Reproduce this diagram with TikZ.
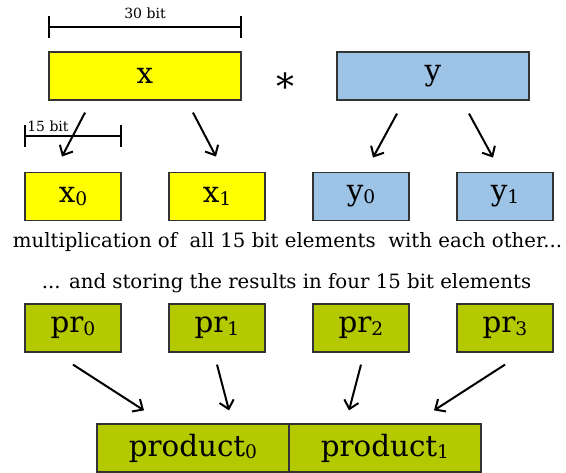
\documentclass[tikz,border=0pt]{standalone}
\usepackage{fontspec}
\setmainfont{DejaVu Serif}
\usetikzlibrary{positioning,arrows.meta,calc}

\definecolor{bitYellow}{RGB}{255,255,0}
\definecolor{bitBlue}{RGB}{157,195,230}
\definecolor{bitGreen}{RGB}{181,201,0}
\newcommand{\low}[1]{\raisebox{-2pt}{\fontsize{14}{14}\selectfont #1}}

\begin{document}
\begin{tikzpicture}[x=0.75pt, y=-0.75pt,
  word/.style={draw=black!80, line width=0.9pt, inner sep=0pt,
               font=\fontsize{22}{24}\selectfont},
  wide/.style={word, minimum width=144pt, minimum height=36pt},
  half/.style={word, minimum width=72pt, minimum height=36.5pt},
  arr/.style={-{Straight Barb[length=6pt,width=11pt]}, line width=1.5pt},
  bitbar/.style={{Bar[width=16.5pt]}-{Bar[width=16.5pt]}, line width=1.5pt},
  note/.style={font=\fontsize{14.8}{16}\selectfont, inner sep=0pt},
  tag/.style={font=\fontsize{10.5}{12}\selectfont, inner sep=0pt},
]
\useasboundingbox (0,0) rectangle (566,473);

% the two 30 bit operands
\node[wide, fill=bitYellow] (x) at (145,76)  {x};
\node[wide, fill=bitBlue]   (y) at (433,76)  {y};
\node[inner sep=0pt, font=\fontsize{27}{27}\selectfont] (times) at (285,86) {*};

\draw[bitbar] ($(x.north west)+(0,-24)$) -- ($(x.north east)+(0,-24)$)
  node[tag, midway, above=6pt] (w30) {30 bit};

% split into 15 bit halves
\node[half, fill=bitYellow] (x0) at (73,196.5)  {x\low{0}};
\node[half, fill=bitYellow] (x1) at (217,196.5) {x\low{1}};
\node[half, fill=bitBlue]   (y0) at (361,196.5) {y\low{0}};
\node[half, fill=bitBlue]   (y1) at (505,196.5) {y\low{1}};

\draw[bitbar] ($(x0.north west)+(0,-36)$) -- ($(x0.north east)+(0,-36)$);
\node[tag, anchor=base west] (w15) at (27,132) {15 bit};

\draw[arr] ($(x.south)+(-60,12)$) -- ($(x0.north)+(-11,-15)$);
\draw[arr] ($(x.south)+(48,12)$)  -- ($(x1.north)+(-1,-15)$);
\draw[arr] ($(y.south)+(-36,13)$) -- ($(y0.north)+(12,-14)$);
\draw[arr] ($(y.south)+(36,13)$)  -- ($(y1.north)+(-12,-14)$);

\node[note] (mul) at (287.5,242) {multiplication of\ \ all 15 bit elements\ \ with each other...};
\node[note] (sto) at (286.5,283) {... and storing the results in four 15 bit elements};

% partial products
\node[half, fill=bitGreen, minimum height=36pt] (pr0) at (73,328)  {pr\low{0}};
\node[half, fill=bitGreen, minimum height=36pt] (pr1) at (217,328) {pr\low{1}};
\node[half, fill=bitGreen, minimum height=36pt] (pr2) at (361,328) {pr\low{2}};
\node[half, fill=bitGreen, minimum height=36pt] (pr3) at (505,328) {pr\low{3}};

\node[wide, fill=bitGreen] (p0) at (193,448) {product\low{0}};
\node[wide, fill=bitGreen] (p1) at (385,448) {product\low{1}};

\draw[arr] ($(pr0.south)+(0,12)$) -- ($(p0.north)+(-49,-13)$);
\draw[arr] ($(pr1.south)+(0,12)$) -- ($(p0.north)+(36,-13)$);
\draw[arr] ($(pr2.south)+(0,12)$) -- ($(p1.north)+(-36,-13)$);
\draw[arr] ($(pr3.south)+(0,12)$) -- ($(p1.north)+(49,-13)$);
\end{tikzpicture}
\end{document}
